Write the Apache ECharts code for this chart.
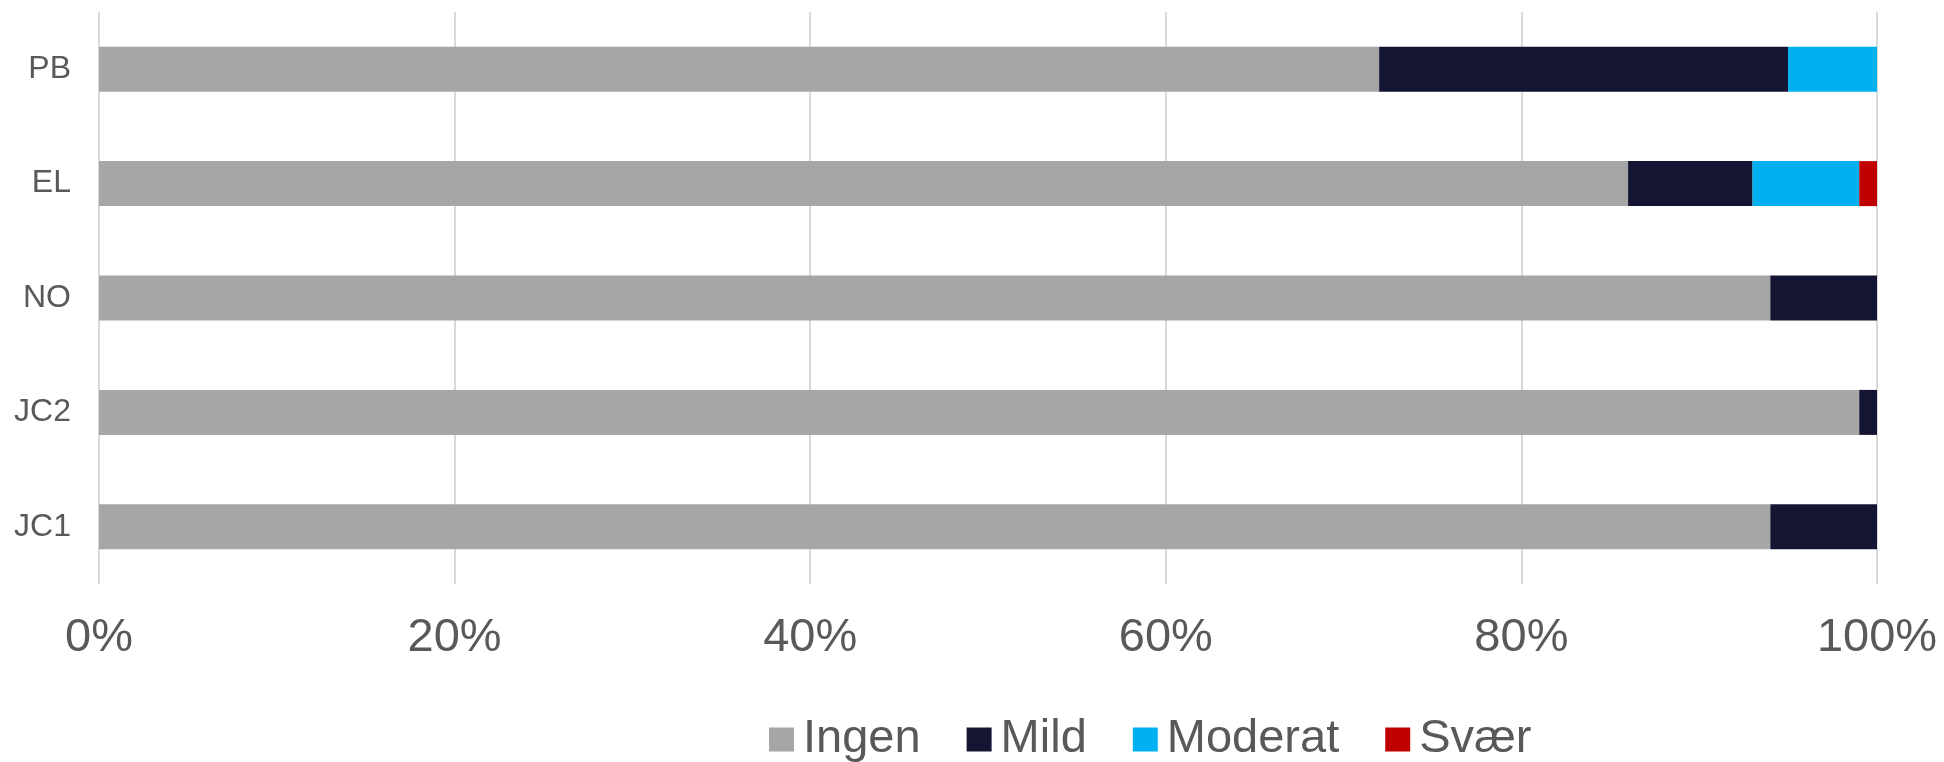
<!DOCTYPE html>
<html>
<head>
<meta charset="utf-8">
<script src="https://cdn.jsdelivr.net/npm/echarts@6/dist/echarts.min.js"></script>
<style>
  html, body { margin: 0; padding: 0; background: #fff; }
  #chart { width: 1944px; height: 762px; }
</style>
</head>
<body>
<div id="chart"></div>
<script>
// categories bottom-to-top (y category axis runs upward)
var categories = ['JC1', 'JC2', 'NO', 'EL', 'PB'];
var ingen   = [94, 99, 94, 86, 72];
var mild    = [6, 1, 6, 7, 23];
var moderat = [0, 0, 0, 6, 5];
var svaer   = [0, 0, 0, 1, 0];
var xTicks  = [0, 20, 40, 60, 80, 100];

var textColor = '#595959';
var font = '"Liberation Sans", Arial, sans-serif';

function barSeries(name, data, color) {
  return {
    name: name,
    type: 'bar',
    stack: 'total',
    barWidth: 45,
    itemStyle: { color: color },
    data: data
  };
}

var chart = echarts.init(document.getElementById('chart'));
var option = {
  backgroundColor: '#ffffff',
  animation: false,
  textStyle: { fontFamily: font },
  grid: {
    left: 99,
    right: 67,
    top: 12,
    bottom: 178,
    containLabel: false
  },
  legend: {
    left: 764,
    top: 711,
    icon: 'rect',
    itemWidth: 25,
    itemHeight: 24,
    itemGap: 46,
    textStyle: { fontSize: 47, color: textColor, fontFamily: font, padding: [0, 0, 0, 4] },
    data: ['Ingen', 'Mild', 'Moderat', 'Svær']
  },
  xAxis: {
    type: 'value',
    min: xTicks[0],
    max: xTicks[xTicks.length - 1],
    interval: 20,
    axisLine: { show: false },
    axisTick: { show: false },
    splitLine: { show: true, lineStyle: { color: '#d9d9d9', width: 2 } },
    axisLabel: {
      fontSize: 47,
      color: textColor,
      fontFamily: font,
      margin: 31,
      formatter: '{value}%'
    }
  },
  yAxis: {
    type: 'category',
    data: categories,
    axisLine: { show: false },
    axisTick: { show: false },
    axisLabel: {
      fontSize: 32,
      color: textColor,
      fontFamily: font,
      margin: 28
    }
  },
  series: [
    barSeries('Ingen', ingen, '#a6a6a6'),
    barSeries('Mild', mild, '#141433'),
    barSeries('Moderat', moderat, '#00b0f0'),
    barSeries('Svær', svaer, '#c00000')
  ]
};
chart.setOption(option);
</script>
</body>
</html>
